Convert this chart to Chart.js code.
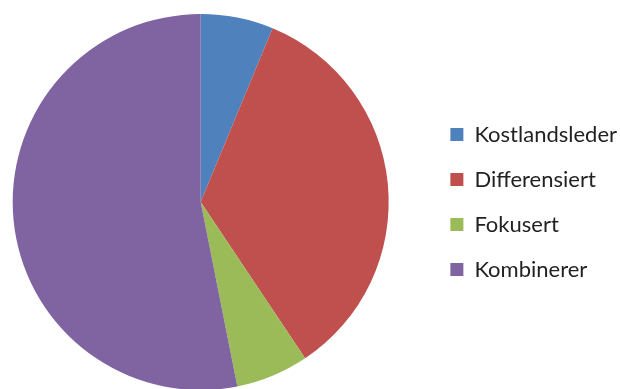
<!DOCTYPE html>
<html>
<head>
<meta charset="utf-8">
<script src="https://cdn.jsdelivr.net/npm/chart.js@4/dist/chart.umd.min.js"></script>
<style>
  html, body { margin: 0; padding: 0; background: #fff; overflow: hidden; width: 620px; height: 389px; }
  #wrap { position: absolute; left: -26px; top: 0; width: 653px; height: 393px; }
</style>
</head>
<body>
<div id="wrap"><canvas id="strategiChart"></canvas></div>
<script>
// Strategityper
const kategorier = ['Kostlandsleder', 'Differensiert', 'Fokusert', 'Kombinerer'];
const antall = [2, 11, 2, 17];
const farger = ['#4F81BD', '#C0504D', '#9BBB59', '#8064A2'];

const ctx = document.getElementById('strategiChart').getContext('2d');
const strategiChart = new Chart(ctx, {
    type: 'pie',
    data: {
        labels: kategorier,
        datasets: [{
            data: antall,
            backgroundColor: farger,
            borderWidth: 0
        }]
    },
    options: {
        responsive: true,
        maintainAspectRatio: false,
        animation: false,
        layout: {
            padding: { top: 14, bottom: 3, left: 0, right: 0 }
        },
        plugins: {
            tooltip: { enabled: false },
            legend: {
                position: 'right',
                labels: {
                    boxWidth: 13,
                    boxHeight: 13,
                    padding: 23,
                    color: '#222',
                    font: { family: 'Lato', size: 22 }
                }
            }
        }
    }
});
</script>
</body>
</html>
